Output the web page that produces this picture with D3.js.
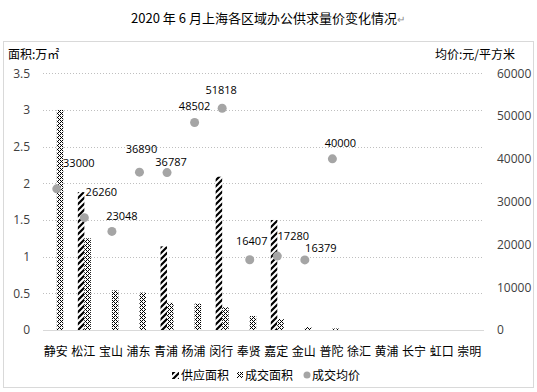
<!DOCTYPE html>
<html>
<head>
<meta charset="utf-8">
<script src="https://cdn.jsdelivr.net/npm/d3@7"></script>
<style>
  body { margin: 0; background: #fff; }
  text { font-family: "Noto Sans CJK SC", "Noto Sans", sans-serif; }
  .num { font-family: "Open Sans", "Noto Sans", sans-serif; }
</style>
</head>
<body>
<div id="chart"></div>
<script>
const width = 537, height = 392;

// data
const districts = ["静安", "松江", "宝山", "浦东", "青浦", "杨浦", "闵行", "奉贤", "嘉定", "金山", "普陀", "徐汇", "黄浦", "长宁", "虹口", "崇明"];
const supplyArea = [0, 1.88, 0, 0, 1.14, 0, 2.09, 0, 1.5, 0, 0, 0, 0, 0, 0, 0];
const dealArea = [3.0, 1.25, 0.54, 0.51, 0.37, 0.36, 0.31, 0.19, 0.15, 0.04, 0.02, 0, 0, 0, 0, 0];
const avgPrice = [33000, 26260, 23048, 36890, 36787, 48502, 51818, 16407, 17280, 16379, 40000, null, null, null, null, null];
const leftTicks = [0, 0.5, 1, 1.5, 2, 2.5, 3, 3.5];
const rightTicks = [0, 10000, 20000, 30000, 40000, 50000, 60000];
const seriesNames = ["供应面积", "成交面积", "成交均价"];

// hand placed data label nudges (dx, dy from the dot)
const labelNudge = [[22, -22], [17, -22], [10, -11], [2, -19], [4, -7], [0, -12], [-1, -14], [2, -15], [16, -16], [16, -8], [8, -12]];

const svg = d3.select("#chart").append("svg").attr("width", width).attr("height", height);

const defs = svg.append("defs");

// wide diagonal stripes for supply
const stripe = defs.append("pattern")
    .attr("id", "stripe")
    .attr("patternUnits", "userSpaceOnUse")
    .attr("width", 6).attr("height", 6);
stripe.append("rect").attr("width", 6).attr("height", 6).attr("fill", "#fff");
stripe.append("path")
    .attr("d", "M-1,7 L7,-1 M-4,4 L4,-4 M2,10 L10,2")
    .attr("stroke", "#000").attr("stroke-width", 2.2);

// small diagonal cross pattern for deal
const checker = defs.append("pattern")
    .attr("id", "checker")
    .attr("patternUnits", "userSpaceOnUse")
    .attr("width", 4).attr("height", 4);
checker.append("rect").attr("width", 4).attr("height", 4).attr("fill", "#fff");
checker.selectAll(".px")
    .data([[0, 0], [2, 0], [1, 1], [0, 2], [2, 2], [3, 3]])
    .join("rect")
    .attr("class", "px")
    .attr("x", d => d[0]).attr("y", d => d[1])
    .attr("width", 1).attr("height", 1)
    .attr("shape-rendering", "crispEdges")
    .attr("fill", "#000");

// outer frame
svg.append("rect")
    .attr("x", 3.5).attr("y", 41.5)
    .attr("width", 530).attr("height", 346)
    .attr("fill", "none").attr("stroke", "#d9d9d9");

// title
const title = svg.append("text")
    .attr("x", 268).attr("y", 23)
    .attr("text-anchor", "middle")
    .style("font-size", "13px")
    .attr("fill", "#000");
title.append("tspan").text("2020 年 6 月上海各区域办公供求量价变化情况");
title.append("tspan").attr("fill", "#888").style("font-size", "10px").text("↵");

const plot = { left: 43, right: 484, top: 73.3, bottom: 330 };

const x = d3.scaleBand().domain(districts).range([plot.left, plot.right]);
const inner = d3.scaleBand().domain(["supply", "deal"]).range([-6.5, 6.5]);
const yArea = d3.scaleLinear().domain([0, 3.5]).range([plot.bottom, plot.top]);
const yPrice = d3.scaleLinear().domain([0, 60000]).range([plot.bottom, plot.top]);

// grid
svg.append("g")
    .selectAll("line")
    .data(leftTicks.slice(1))
    .join("line")
    .attr("x1", plot.left).attr("x2", plot.right)
    .attr("y1", d => Math.round(yArea(d)) + 0.5)
    .attr("y2", d => Math.round(yArea(d)) + 0.5)
    .attr("stroke", "#bfbfbf")
    .attr("stroke-dasharray", "1,2");

// left axis
const leftAxis = svg.append("g")
    .attr("transform", `translate(${plot.left - 13},0)`)
    .call(d3.axisLeft(yArea).tickValues(leftTicks).tickSize(0).tickPadding(0).tickFormat(d3.format("")));
leftAxis.select(".domain").remove();
leftAxis.selectAll("text")
    .attr("class", "num")
    .style("font-size", "12px")
    .attr("fill", "#404040");

// right axis
const rightAxis = svg.append("g")
    .attr("transform", `translate(${plot.right + 13},0)`)
    .call(d3.axisRight(yPrice).tickValues(rightTicks).tickSize(0).tickPadding(0).tickFormat(d3.format("d")));
rightAxis.select(".domain").remove();
rightAxis.selectAll("text")
    .attr("class", "num")
    .style("font-size", "12px")
    .attr("fill", "#404040");

// axis titles
svg.append("text")
    .attr("x", 8).attr("y", 59)
    .style("font-size", "12px")
    .attr("fill", "#000")
    .text("面积:万㎡");
svg.append("text")
    .attr("x", 515).attr("y", 59)
    .attr("text-anchor", "end")
    .style("font-size", "12px")
    .attr("fill", "#000")
    .text("均价:元/平方米");

// bars
const bars = svg.append("g");
bars.selectAll(".supply")
    .data(districts.map((d, i) => ({ d, v: supplyArea[i] })).filter(e => e.v > 0))
    .join("rect")
    .attr("class", "supply")
    .attr("x", e => x(e.d) + x.bandwidth() / 2 + inner("supply"))
    .attr("width", inner.bandwidth())
    .attr("y", e => yArea(e.v))
    .attr("height", e => yArea(0) - yArea(e.v))
    .attr("fill", "url(#stripe)");
bars.selectAll(".deal")
    .data(districts.map((d, i) => ({ d, v: dealArea[i] })).filter(e => e.v > 0))
    .join("rect")
    .attr("class", "deal")
    .attr("x", e => x(e.d) + x.bandwidth() / 2 + inner("deal"))
    .attr("width", inner.bandwidth())
    .attr("y", e => yArea(e.v))
    .attr("height", e => yArea(0) - yArea(e.v))
    .attr("fill", "url(#checker)");

// baseline
svg.append("line")
    .attr("x1", plot.left).attr("x2", plot.right)
    .attr("y1", plot.bottom + 0.5).attr("y2", plot.bottom + 0.5)
    .attr("stroke", "#d9d9d9");

// price dots + labels
const pts = districts.map((d, i) => ({ d, v: avgPrice[i], i })).filter(e => e.v != null);
svg.append("g").selectAll("circle")
    .data(pts)
    .join("circle")
    .attr("cx", e => x(e.d) + x.bandwidth() / 2)
    .attr("cy", e => yPrice(e.v))
    .attr("r", 4.5)
    .attr("fill", "#a5a5a5");
svg.append("g").selectAll("text")
    .data(pts)
    .join("text")
    .attr("class", "num")
    .attr("x", e => x(e.d) + x.bandwidth() / 2 + labelNudge[e.i][0])
    .attr("y", e => yPrice(e.v) + labelNudge[e.i][1])
    .attr("text-anchor", "middle")
    .style("font-size", "11px")
    .attr("fill", "#000")
    .text(e => e.v);

// category labels
svg.append("g").selectAll("text")
    .data(districts)
    .join("text")
    .attr("x", d => x(d) + x.bandwidth() / 2 - 1)
    .attr("y", 356)
    .attr("text-anchor", "middle")
    .style("font-size", "12px")
    .attr("fill", "#000")
    .text(d => d);

// legend
const legend = svg.append("g").attr("transform", "translate(172,380)");
legend.append("rect").attr("x", 0).attr("y", -8).attr("width", 7).attr("height", 7).attr("fill", "url(#stripe)");
legend.append("rect").attr("x", 65).attr("y", -8).attr("width", 6).attr("height", 6).attr("fill", "url(#checker)");
legend.append("circle").attr("cx", 135).attr("cy", -5).attr("r", 3.5).attr("fill", "#a5a5a5");
legend.selectAll(".lt")
    .data(seriesNames)
    .join("text")
    .attr("class", "lt")
    .attr("x", (d, i) => [9, 73, 140][i])
    .attr("y", 0)
    .style("font-size", "12px")
    .attr("fill", "#000")
    .text(d => d);
</script>
</body>
</html>
